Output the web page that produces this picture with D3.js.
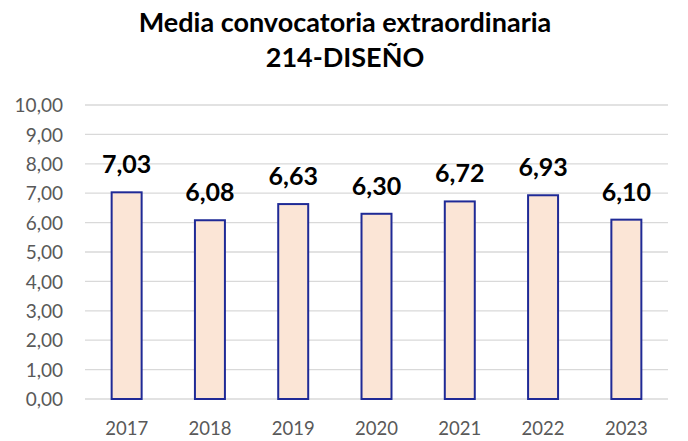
<!DOCTYPE html>
<html><head><meta charset="utf-8">
<script src="https://cdn.jsdelivr.net/npm/d3@7"></script>
<style>body{margin:0;background:#fff}</style>
</head><body>
<svg id="c" width="688" height="441"></svg>
<script>
const years = ["2017","2018","2019","2020","2021","2022","2023"];
const values = [7.03, 6.08, 6.63, 6.30, 6.72, 6.93, 6.10];
const yTicks = [0,1,2,3,4,5,6,7,8,9,10];
const titleLines = ["Media convocatoria extraordinaria", "214-DISEÑO"];

const svg = d3.select("#c");
const font = "Lato, 'Open Sans', sans-serif";
const fmt = v => v.toFixed(2).replace(".", ",");

const x = d3.scaleBand().domain(years).range([85, 668]).paddingInner(0.64).paddingOuter(0.32);
const y = d3.scaleLinear().domain([0, 10]).range([399, 105]);

// gridlines
svg.append("g").selectAll("line").data(yTicks).join("line")
  .attr("x1", 85).attr("x2", 668)
  .attr("y1", d => y(d)).attr("y2", d => y(d))
  .attr("stroke", "#d9d9d9").attr("stroke-width", 1.3);

// y axis labels
const yAxis = d3.axisLeft(y).tickValues(yTicks).tickFormat(fmt).tickSize(0).tickPadding(0);
const ga = svg.append("g").attr("transform", "translate(63,0)").call(yAxis);
ga.select(".domain").remove();
ga.selectAll("text").attr("font-family", font).attr("font-size", 19).attr("fill", "#595959").attr("dy", "0.35em");

// x axis labels
const xAxis = d3.axisBottom(x).tickSize(0).tickPadding(0);
const gx = svg.append("g").attr("transform", "translate(0,435)").call(xAxis);
gx.select(".domain").remove();
gx.selectAll("text").attr("font-family", font).attr("font-size", 18.5).attr("fill", "#595959").attr("y", 0).attr("dy", 0);

// bars
svg.append("g").selectAll("rect").data(values).join("rect")
  .attr("x", (d,i) => x(years[i]))
  .attr("width", x.bandwidth())
  .attr("y", d => y(d))
  .attr("height", d => y(0) - y(d))
  .attr("fill", "#fbe5d6").attr("stroke", "#1f2a96").attr("stroke-width", 2);

// value labels
svg.append("g").selectAll("text").data(values).join("text")
  .attr("x", (d,i) => x(years[i]) + x.bandwidth()/2)
  .attr("y", d => y(d) - 19)
  .attr("text-anchor", "middle")
  .attr("font-family", font).attr("font-weight", "bold").attr("font-size", 25)
  .attr("fill", "#000")
  .text(fmt);

// title
svg.append("g").selectAll("text").data(titleLines).join("text")
  .attr("x", 345).attr("y", (d,i) => 32 + i*35)
  .attr("text-anchor", "middle")
  .attr("font-family", font).attr("font-weight", "bold").attr("font-size", 27)
  .attr("fill", "#000")
  .text(d => d);
</script>
</body></html>
